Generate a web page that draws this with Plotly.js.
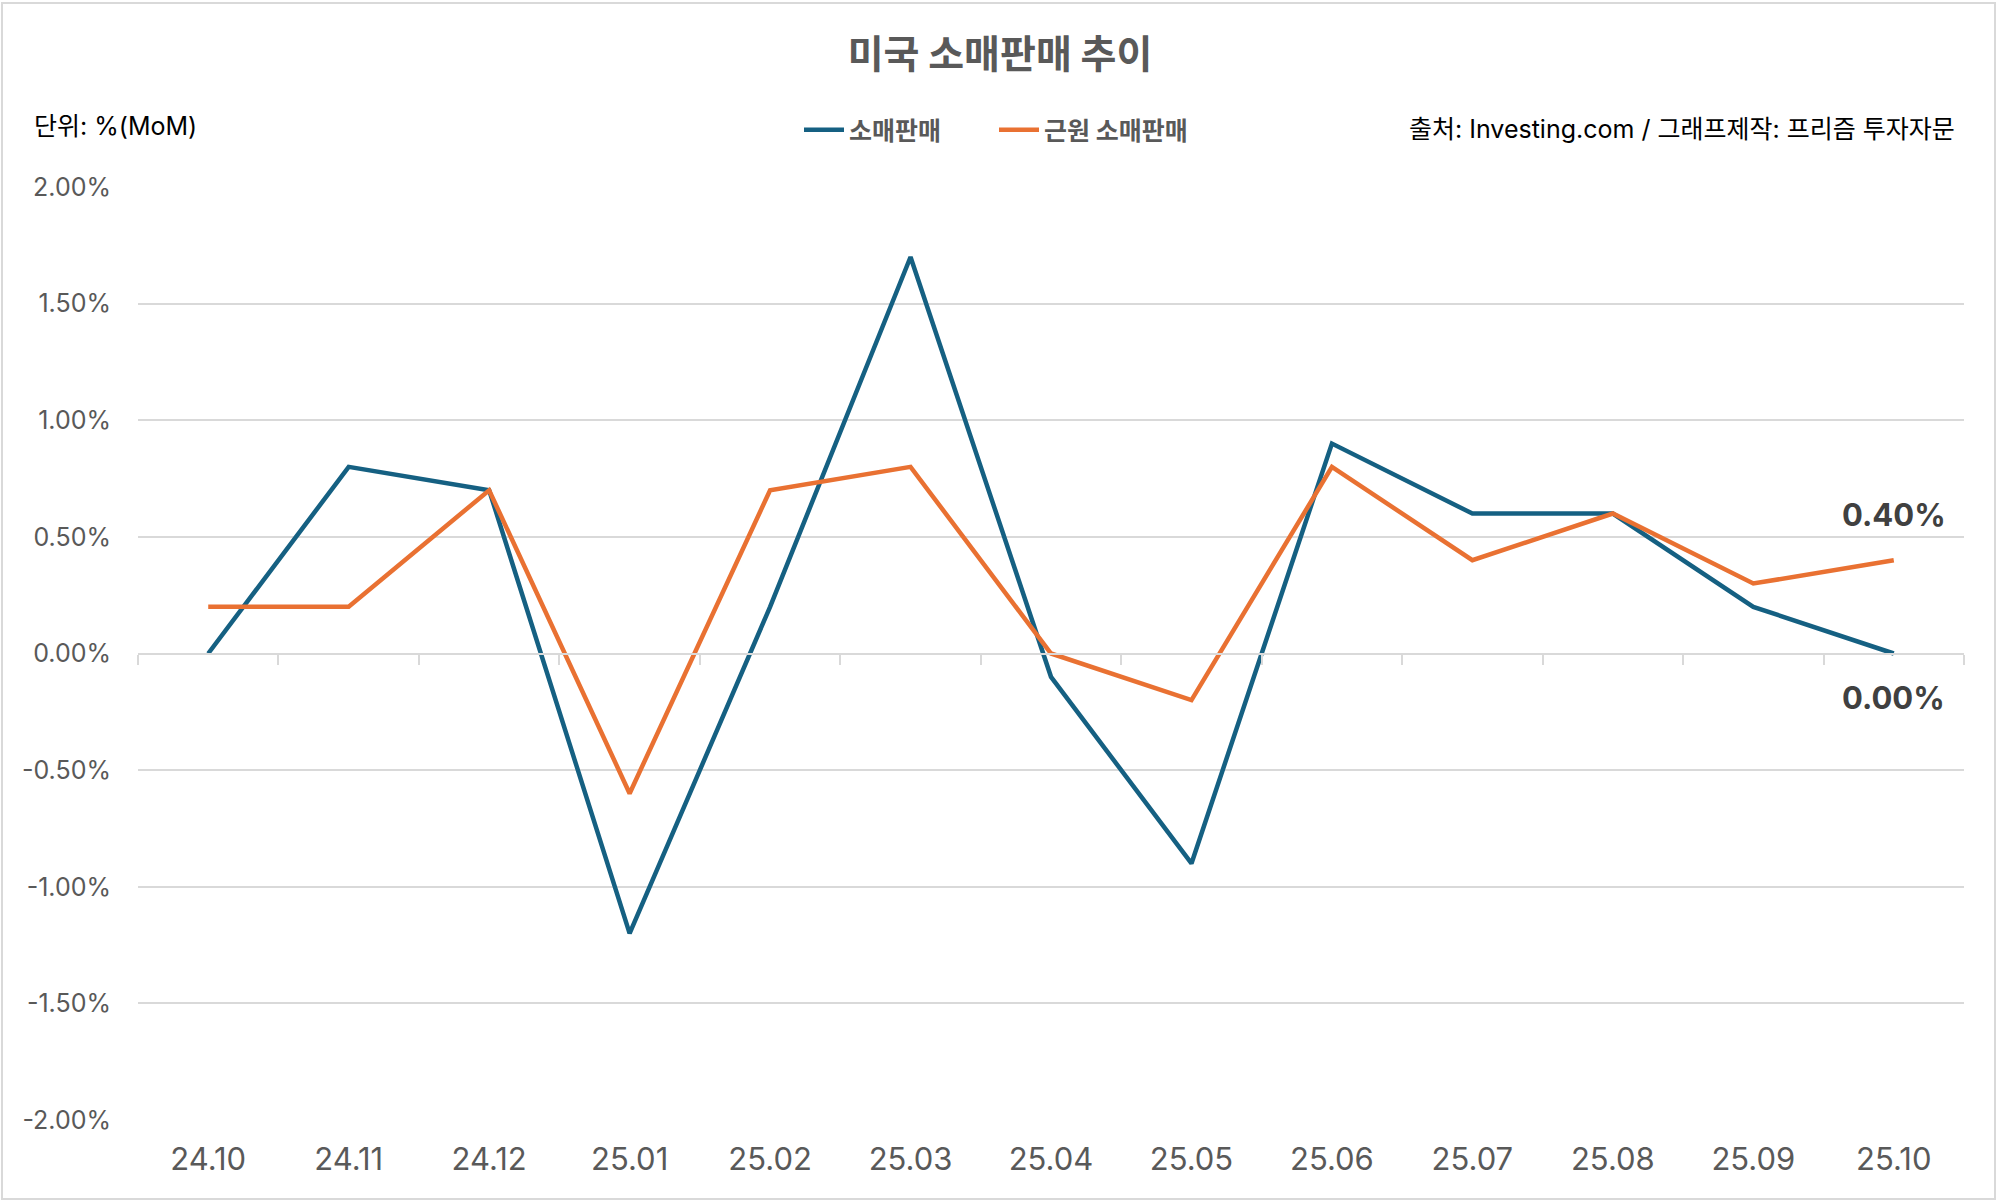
<!DOCTYPE html>
<html>
<head>
<meta charset="utf-8">
<script src="https://cdn.plot.ly/plotly-3.0.1.min.js"></script>
<style>html,body{margin:0;padding:0;background:#fff;}#chart{width:2000px;height:1203px;}</style>
</head>
<body>
<div id="chart"></div>
<script>
const months = ["24.10","24.11","24.12","25.01","25.02","25.03","25.04","25.05","25.06","25.07","25.08","25.09","25.10"];
const retailSales = [0.0, 0.8, 0.7, -1.2, 0.2, 1.7, -0.1, -0.9, 0.9, 0.6, 0.6, 0.2, 0.0];
const coreRetailSales = [0.2, 0.2, 0.7, -0.6, 0.7, 0.8, 0.0, -0.2, 0.8, 0.4, 0.6, 0.3, 0.4];
const yTickVals = [-2, -1.5, -1, -0.5, 0, 0.5, 1, 1.5, 2];
const yTickText = ["-2.00%","-1.50%","-1.00%","-0.50%","0.00%","0.50%","1.00%","1.50%","2.00%"];
const seriesNames = ["소매판매", "근원 소매판매"];

const FONT = "Inter, 'Noto Sans CJK KR', sans-serif";
const KFONT = "'Noto Sans CJK KR', Inter, sans-serif";
const BLUE = "#156082", ORANGE = "#E97132";

const traces = [
  {x: months, y: retailSales, name: seriesNames[0], type: "scatter", mode: "lines",
   line: {color: BLUE, width: 4.5}, xaxis: "x", yaxis: "y"},
  {x: months, y: coreRetailSales, name: seriesNames[1], type: "scatter", mode: "lines",
   line: {color: ORANGE, width: 4.5}, xaxis: "x2", yaxis: "y"}
];

const last = months.length - 1;
const fmt = v => v.toFixed(2) + "%";

const ML = 138, MR = 36, MT = 187, MB = 83, W = 2000, H = 1203;
const PW = W - ML - MR, PH = H - MT - MB;
const px = x => (x - ML) / PW;
const py = y => (H - MB - y) / PH;

const layout = {
  width: W, height: H,
  margin: {l: ML, r: MR, t: MT, b: MB},
  paper_bgcolor: "#fff", plot_bgcolor: "#fff",
  font: {family: FONT, color: "#595959"},
  title: {text: "<b>미국 소매판매 추이</b>", font: {family: KFONT, size: 39, color: "#595959"},
          x: 0.5, xanchor: "center", xref: "container", y: 1 - 54/H, yanchor: "middle", yref: "container"},
  showlegend: true,
  legend: {orientation: "h", xref: "container", yref: "container", x: 994/W, xanchor: "center",
           y: 1 - 130/H, yanchor: "middle", font: {family: KFONT, size: 25, color: "#595959", weight: "bold"},
           entrywidth: 140, entrywidthmode: "pixels", itemwidth: 40, tracegroupgap: 0, bgcolor: "rgba(0,0,0,0)"},
  xaxis: {type: "category", categoryarray: months, range: [-0.5, 12.5], showgrid: false, zeroline: false,
          showline: false, ticks: "", tickfont: {family: FONT, size: 31, color: "#595959"},
          ticklabelstandoff: 18, fixedrange: true},
  xaxis2: {type: "category", categoryarray: months, range: [-0.5, 12.5], overlaying: "x", anchor: "free",
           position: 0.5, side: "bottom", showgrid: false, zeroline: false, showline: true,
           linecolor: "#D9D9D9", linewidth: 2, ticks: "outside", ticklen: 10, tickwidth: 2,
           tickcolor: "#D9D9D9", tickson: "boundaries", showticklabels: false, fixedrange: true},
  yaxis: {range: [-2, 2], tickvals: yTickVals, ticktext: yTickText, showgrid: true, gridcolor: "#D9D9D9",
          gridwidth: 2, zeroline: false, showline: false, ticks: "",
          tickfont: {family: FONT, size: 25, color: "#595959"}, ticklabelstandoff: 26, fixedrange: true},
  annotations: [
    {text: "단위: %(MoM)", xref: "paper", yref: "paper", x: px(32), xanchor: "left",
     y: py(126), yanchor: "middle", showarrow: false, font: {family: FONT, size: 25, color: "#000"}},
    {text: "출처: Investing.com / 그래프제작: 프리즘 투자자문", xref: "paper", yref: "paper",
     x: px(1957), xanchor: "right", y: py(129), yanchor: "middle", showarrow: false,
     font: {family: FONT, size: 25, color: "#000"}},
    {text: "<b>" + fmt(coreRetailSales[last]) + "</b>", x: last, y: coreRetailSales[last],
     xref: "x", yref: "y", showarrow: false, xanchor: "center", yanchor: "middle", xshift: 0, yshift: 46,
     font: {family: FONT, size: 31, color: "#404040"}},
    {text: "<b>" + fmt(retailSales[last]) + "</b>", x: last, y: retailSales[last],
     xref: "x", yref: "y", showarrow: false, xanchor: "center", yanchor: "middle", xshift: 0, yshift: -44,
     font: {family: FONT, size: 31, color: "#404040"}}
  ],
  shapes: [
    {type: "rect", xref: "paper", yref: "paper", x0: px(2), x1: px(1995), y0: py(1199), y1: py(3),
     line: {color: "#D9D9D9", width: 2}, fillcolor: "rgba(0,0,0,0)", layer: "below"}
  ]
};

Plotly.newPlot("chart", traces, layout, {displayModeBar: false, staticPlot: true});
</script>
</body>
</html>
